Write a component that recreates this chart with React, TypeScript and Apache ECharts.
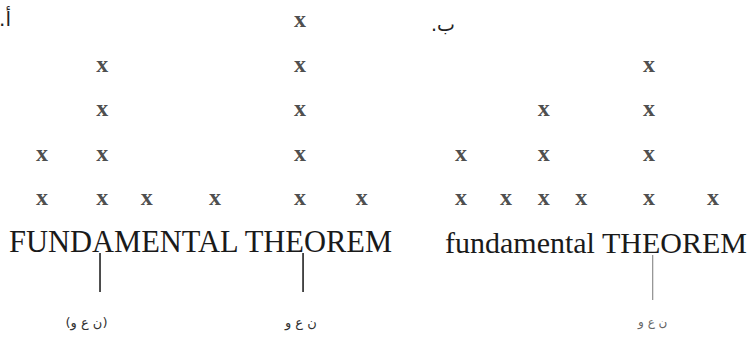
import { useEffect, useRef } from "react";
import * as echarts from "echarts";

// Dot plots: each column is a value, each "x" one observation stacked above it.
const leftColumns = [5.6, 13.6, 19.5, 28.6, 39.9, 48.1];
const leftCounts = [2, 4, 1, 1, 5, 1];
const rightColumns = [61.3, 67.3, 72.3, 77.3, 86.3, 94.8];
const rightCounts = [2, 1, 3, 1, 4, 1];

// Words printed under the plots and the panel tags (LRO keeps the printed order).
const captions = ["FUNDAMENTAL THEOREM", "fundamental THEOREM"];
const panelTags = ["\u202D.أ\u202C", "\u202D.ب\u202C"];

// Vertical markers under the plots with their labels.
const markerValues = [13.3, 40.3, 86.8];
const markerLabels = ["\u202D(و ع ن)\u202C", "\u202Dو ع ن\u202C", "\u202Dو ع ن\u202C"];
const markerLabelValues = [11.5, 40.0, 86.8];

const SERIF = "'Liberation Serif', 'Times New Roman', serif";
const ARABIC = "'DejaVu Sans', sans-serif";

function stack(columns: number[], counts: number[]): number[][] {
  const pts: number[][] = [];
  columns.forEach((x, i) => {
    for (let k = 1; k <= counts[i]; k++) pts.push([x, k]);
  });
  return pts;
}

export default function App() {
  const ref = useRef<HTMLDivElement>(null);

  useEffect(() => {
    if (!ref.current) return;
    const chart = echarts.init(ref.current, undefined, { renderer: "svg" });

    const xLabel = {
      show: true,
      position: "inside" as const,
      formatter: "x",
      fontFamily: SERIF,
      fontWeight: "bold" as const,
      fontSize: 24,
      color: "#1e1e1e",
      offset: [0, -3],
    };

    chart.setOption({
      animation: false,
      backgroundColor: "#ffffff",
      grid: { left: 0, right: 0, top: 22, bottom: 104.5 },
      xAxis: { type: "value", min: 0, max: 100, show: false },
      yAxis: { type: "value", min: 0, max: 5, show: false },
      series: [
        {
          type: "scatter",
          data: stack(leftColumns, leftCounts),
          symbolSize: 1,
          itemStyle: { color: "rgba(0,0,0,0)" },
          label: xLabel,
        },
        {
          type: "scatter",
          data: stack(rightColumns, rightCounts),
          symbolSize: 1,
          itemStyle: { color: "rgba(0,0,0,0)" },
          label: xLabel,
        },
      ],
    });

    const px = (v: number) => chart.convertToPixel({ xAxisIndex: 0 }, v) as number;

    const graphics: any[] = [
      {
        type: "text",
        x: 9,
        y: 242,
        style: { text: captions[0], font: `30.5px ${SERIF}`, fill: "#1a1a1a", verticalAlign: "middle", align: "left" },
      },
      {
        type: "text",
        x: 445,
        y: 242,
        style: { text: captions[1], font: `30px ${SERIF}`, fill: "#1a1a1a", verticalAlign: "middle", align: "left" },
      },
      {
        type: "text",
        x: 11,
        y: 19,
        style: { text: panelTags[0], font: `20px ${ARABIC}`, fill: "#222", verticalAlign: "middle", align: "right" },
      },
      {
        type: "text",
        x: 455,
        y: 24,
        style: { text: panelTags[1], font: `19px ${ARABIC}`, fill: "#222", verticalAlign: "middle", align: "right" },
      },
    ];

    const lineSpans = [
      [253, 292],
      [253, 292],
      [255, 300],
    ];
    const lineStyles = [
      { stroke: "#222", lineWidth: 1.6 },
      { stroke: "#222", lineWidth: 1.6 },
      { stroke: "#777", lineWidth: 1 },
    ];
    const labelStyles = [
      { fill: "#333", size: 13 },
      { fill: "#333", size: 13 },
      { fill: "#666", size: 12 },
    ];

    markerValues.forEach((v, i) => {
      const x = px(v);
      graphics.push({
        type: "line",
        shape: { x1: x, y1: lineSpans[i][0], x2: x, y2: lineSpans[i][1] },
        style: lineStyles[i],
      });
      graphics.push({
        type: "text",
        x: px(markerLabelValues[i]),
        y: 322,
        style: {
          text: markerLabels[i],
          font: `${labelStyles[i].size}px ${ARABIC}`,
          fill: labelStyles[i].fill,
          align: "center",
          verticalAlign: "middle",
        },
      });
    });

    chart.setOption({ graphic: graphics });

    return () => chart.dispose();
  }, []);

  return (
    <div
      ref={ref}
      style={{ position: "fixed", left: 0, top: 0, width: 752, height: 349, background: "#fff" }}
    />
  );
}
